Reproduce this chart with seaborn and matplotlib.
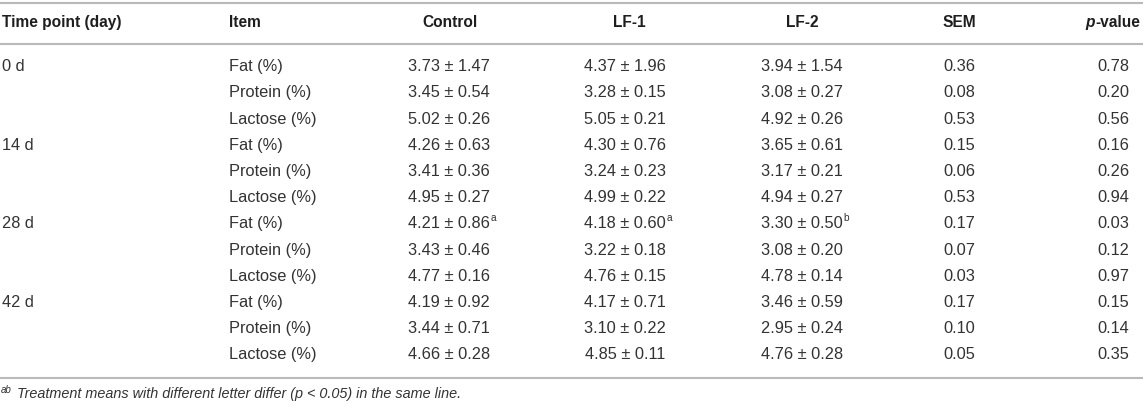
import matplotlib
matplotlib.use("Agg")
import matplotlib.pyplot as plt
import seaborn as sns

# table data
headers = ["Time point (day)", "Item", "Control", "LF-1", "LF-2", "SEM", "p-value"]
time_points = ["0 d", "14 d", "28 d", "42 d"]
items = ["Fat (%)", "Protein (%)", "Lactose (%)"]

control_mean = [3.73, 3.45, 5.02, 4.26, 3.41, 4.95, 4.21, 3.43, 4.77, 4.19, 3.44, 4.66]
control_sd = [1.47, 0.54, 0.26, 0.63, 0.36, 0.27, 0.86, 0.46, 0.16, 0.92, 0.71, 0.28]
lf1_mean = [4.37, 3.28, 5.05, 4.30, 3.24, 4.99, 4.18, 3.22, 4.76, 4.17, 3.10, 4.85]
lf1_sd = [1.96, 0.15, 0.21, 0.76, 0.23, 0.22, 0.60, 0.18, 0.15, 0.71, 0.22, 0.11]
lf2_mean = [3.94, 3.08, 4.92, 3.65, 3.17, 4.94, 3.30, 3.08, 4.78, 3.46, 2.95, 4.76]
lf2_sd = [1.54, 0.27, 0.26, 0.61, 0.21, 0.27, 0.50, 0.20, 0.14, 0.59, 0.24, 0.28]
sem = [0.36, 0.08, 0.53, 0.15, 0.06, 0.53, 0.17, 0.07, 0.03, 0.17, 0.10, 0.05]
p_value = [0.78, 0.20, 0.56, 0.16, 0.26, 0.94, 0.03, 0.12, 0.97, 0.15, 0.14, 0.35]

# superscript letters (row index -> letter)
control_sup = {6: "a"}
lf1_sup = {6: "a"}
lf2_sup = {6: "b"}

footnote = "Treatment means with different letter differ (p < 0.05) in the same line."

sns.set_theme(style="white")
plt.rcParams["font.family"] = ["Liberation Sans", "DejaVu Sans"]

W, H = 1143, 407
fig = plt.figure(figsize=(W / 100, H / 100), dpi=100)
ax = fig.add_axes([0, 0, 1, 1])
ax.set_xlim(0, W)
ax.set_ylim(H, 0)
ax.axis("off")

FS = 11.8
HFS = 11.2
BODY = "#333333"
HEAD = "#1e1e1e"
LINE = "#b9b9b9"

# horizontal rules
for yy in [3, 43.5, 377.5]:
    ax.axhline(yy, color=LINE, lw=1.5)

# header row
hy = 22.5
ax.text(2, hy, headers[0], ha="left", va="center", fontsize=HFS, weight="bold", color=HEAD)
ax.text(229, hy, headers[1], ha="left", va="center", fontsize=HFS, weight="bold", color=HEAD)
ax.text(450, hy, headers[2], ha="center", va="center", fontsize=HFS, weight="bold", color=HEAD)
ax.text(629, hy, headers[3], ha="center", va="center", fontsize=HFS, weight="bold", color=HEAD)
ax.text(802, hy, headers[4], ha="center", va="center", fontsize=HFS, weight="bold", color=HEAD)
ax.text(959, hy, headers[5], ha="center", va="center", fontsize=HFS, weight="bold", color=HEAD)
pv = ax.text(1140, hy, "-value", ha="right", va="center", fontsize=HFS, weight="bold", color=HEAD)
ax.annotate("p", xy=(0, 0.5), xycoords=pv, ha="right", va="center",
            fontsize=HFS, weight="bold", style="italic", color=HEAD)

# body rows
y0, dy = 66.7, 26.2
n = len(control_mean)
for i in range(n):
    y = y0 + dy * i
    if i % 3 == 0:
        ax.text(2, y, time_points[i // 3], ha="left", va="center", fontsize=FS, color=BODY)
    ax.text(229, y, items[i % 3], ha="left", va="center", fontsize=FS, color=BODY)
    for x, means, sds, sups in [(449, control_mean, control_sd, control_sup),
                                (625, lf1_mean, lf1_sd, lf1_sup),
                                (802, lf2_mean, lf2_sd, lf2_sup)]:
        t = ax.text(x, y, f"{means[i]:.2f} ± {sds[i]:.2f}", ha="center", va="center",
                    fontsize=FS, color=BODY)
        if i in sups:
            ax.annotate(sups[i], xy=(1, 0.9), xycoords=t, xytext=(0.5, 0),
                        textcoords="offset points", ha="left", va="center",
                        fontsize=FS * 0.62, color=BODY)
    ax.text(959, y, f"{sem[i]:.2f}", ha="center", va="center", fontsize=FS, color=BODY)
    ax.text(1129, y, f"{p_value[i]:.2f}", ha="right", va="center", fontsize=FS, color=BODY)

# footnote
ax.text(1, 390, "ab", ha="left", va="center", fontsize=7, style="italic", color=BODY)
ax.text(17, 394, footnote, ha="left", va="center", fontsize=10.4, style="italic", color=BODY)

fig.savefig("out.png", dpi=100)
